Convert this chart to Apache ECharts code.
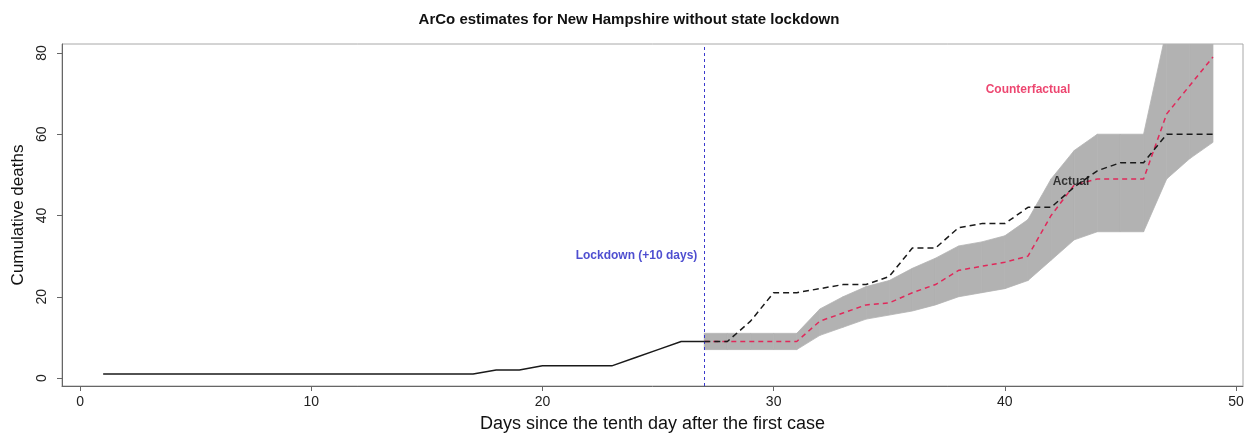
<!DOCTYPE html>
<html>
<head>
<meta charset="utf-8">
<script src="https://cdn.jsdelivr.net/npm/echarts@6/dist/echarts.min.js"></script>
<style>
html,body{margin:0;padding:0;background:#fff;}
#chart{width:1258px;height:438px;}
</style>
</head>
<body>
<div id="chart"></div>
<script>
// ---- data ----
var days = [1,2,3,4,5,6,7,8,9,10,11,12,13,14,15,16,17,18,19,20,21,22,23,24,25,26,27,
            28,29,30,31,32,33,34,35,36,37,38,39,40,41,42,43,44,45,46,47,48,49];
var actualDeaths = [1,1,1,1,1,1,1,1,1,1,1,1,1,1,1,1,1,2,2,3,3,3,3,5,7,9,9,
                    9,14,21,21,22,23,23,25,32,32,37,38,38,42,42,47,51,53,53,60,60,60];
var lockdownDay = 27;
var cfDays = [27,28,29,30,31,32,33,34,35,36,37,38,39,40,41,42,43,44,45,46,47,48,49];
var counterfactual = [9,9,9,9,9,14,16,18,18.5,21,23,26.5,27.5,28.5,30,40,47.5,49,49,49,65,72,79];
var ciLower = [7,7,7,7,7,10.5,12.5,14.5,15.5,16.5,18,20,21,22,24,29,34,36,36,36,49,54,58];
var ciUpper = [11,11,11,11,11,17,20,22.5,24,27,29.5,32.5,33.5,35,39,49,56,60,60,60,86,92,98];
var xTicks = [0,10,20,30,40,50];
var yTicks = [0,20,40,60,80];

// ---- build series data ----
function pairs(xs, ys){ return xs.map(function(x,i){ return [x, ys[i]]; }); }
var idxLock = days.indexOf(lockdownDay);
var actualPre = pairs(days.slice(0, idxLock+1), actualDeaths.slice(0, idxLock+1));
var actualPost = pairs(days.slice(idxLock), actualDeaths.slice(idxLock));
var cfData = pairs(cfDays, counterfactual);
// band segments: [x0, lo0, hi0, x1, lo1, hi1]
var bandSegs = [];
for (var i = 0; i < cfDays.length - 1; i++) {
  bandSegs.push([cfDays[i], ciLower[i], ciUpper[i], cfDays[i+1], ciLower[i+1], ciUpper[i+1]]);
}

var FONT = "'Liberation Sans', Arial, sans-serif";
var BAND = '#b2b2b2';

var chart = echarts.init(document.getElementById('chart'), null, {renderer:'canvas'});
chart.setOption({
  animation:false,
  backgroundColor:'#ffffff',
  title:{
    text:'ArCo estimates for New Hampshire without state lockdown',
    left:'center', top:7,
    textStyle:{fontFamily:FONT, fontWeight:'bold', fontSize:15, color:'#111'}
  },
  grid:{left:62, right:15, top:44, bottom:50, show:true, borderColor:'#a8a8a8', borderWidth:1, backgroundColor:'#fff'},
  xAxis:{
    type:'value', min:-0.78, max:50.3,
    name:'Days since the tenth day after the first case',
    nameLocation:'middle', nameGap:29,
    nameTextStyle:{fontFamily:FONT, fontSize:18, color:'#111'},
    axisLine:{show:true, onZero:false, lineStyle:{color:'#666', width:1}},
    axisTick:{show:true, length:5, inside:false, customValues:xTicks, lineStyle:{color:'#666'}},
    axisLabel:{customValues:xTicks, fontFamily:FONT, fontSize:14, color:'#222', margin:9},
    splitLine:{show:false}
  },
  yAxis:{
    type:'value', min:-1.96, max:82.2,
    name:'Cumulative deaths',
    nameLocation:'middle', nameGap:35, nameRotate:90,
    nameTextStyle:{fontFamily:FONT, fontSize:17, color:'#111'},
    axisLine:{show:true, onZero:false, lineStyle:{color:'#666', width:1}},
    axisTick:{show:true, length:5, inside:false, customValues:yTicks, lineStyle:{color:'#666'}},
    axisLabel:{customValues:yTicks, rotate:90, fontFamily:FONT, fontSize:14, color:'#222', margin:13},
    splitLine:{show:false}
  },
  series:[
    {type:'custom', name:'band', data:bandSegs, silent:true, clip:true, z:1,
     encode:{x:[0,3], y:[1,2,4,5]},
     renderItem:function(params, api){
       var a = api.coord([api.value(0), api.value(1)]);
       var b = api.coord([api.value(0), api.value(2)]);
       var c = api.coord([api.value(3), api.value(5)]);
       var d = api.coord([api.value(3), api.value(4)]);
       return {type:'polygon', shape:{points:[a,b,c,d]},
               style:{fill:BAND, stroke:BAND, lineWidth:0.8}};
     }},
    {type:'line', name:'Actual pre', data:actualPre, symbol:'none', silent:true,
     lineStyle:{color:'#1a1a1a', width:1.5}, z:3,
     markLine:{silent:true, symbol:'none', label:{show:false},
       lineStyle:{color:'#3a3acc', width:1, type:[3,3]},
       data:[{xAxis:lockdownDay}]}},
    {type:'line', name:'Counterfactual', data:cfData, symbol:'none', silent:true,
     lineStyle:{color:'#e0285a', width:1.5, type:[5,4]}, z:4},
    {type:'line', name:'Actual', data:actualPost, symbol:'none', silent:true,
     lineStyle:{color:'#1a1a1a', width:1.5, type:[6,4]}, z:5},
    {type:'scatter', symbolSize:0, silent:true, z:6,
     data:[{value:[26.7,30.1], label:{formatter:'Lockdown (+10 days)', color:'#2222c4', position:'left'}},
           {value:[41.0,71.0], label:{formatter:'Counterfactual', color:'#e8184c', position:'inside'}},
           {value:[42.86,48.2], label:{formatter:'Actual', color:'#111', position:'inside'}}],
     label:{show:true, distance:0, fontFamily:FONT, fontWeight:'bold', fontSize:12}}
  ]
});
</script>
</body>
</html>
